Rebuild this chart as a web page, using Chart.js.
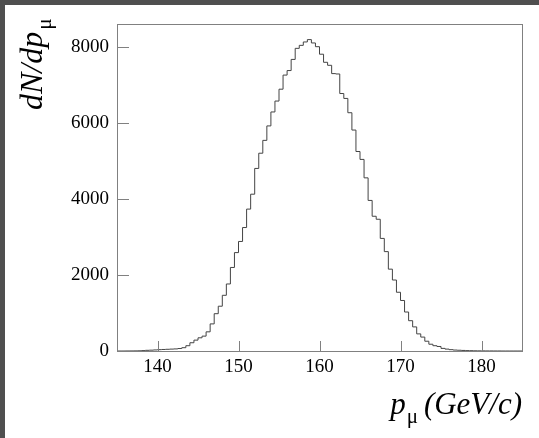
<!DOCTYPE html>
<html>
<head>
<meta charset="utf-8">
<script src="https://cdn.jsdelivr.net/npm/chart.js@4/dist/chart.umd.min.js"></script>
<style>
  html, body { margin: 0; padding: 0; background: #4f4f4f; width: 539px; height: 438px; overflow: hidden; }
  #wrap { position: absolute; left: 5px; top: 5px; width: 534px; height: 433px; background: #ffffff; }
  canvas { display: block; }
</style>
</head>
<body>
<div id="wrap"><canvas id="c" width="534" height="433"></canvas></div>
<script>
// Bin edges (GeV/c) of the histogram, 0.5 GeV/c wide
const binEdges = [
  135,135.5,136,136.5,137,137.5,138,138.5,139,139.5,
  140,140.5,141,141.5,142,142.5,143,143.5,144,144.5,
  145,145.5,146,146.5,147,147.5,148,148.5,149,149.5,
  150,150.5,151,151.5,152,152.5,153,153.5,154,154.5,
  155,155.5,156,156.5,157,157.5,158,158.5,159,159.5,
  160,160.5,161,161.5,162,162.5,163,163.5,164,164.5,
  165,165.5,166,166.5,167,167.5,168,168.5,169,169.5,
  170,170.5,171,171.5,172,172.5,173,173.5,174,174.5,
  175,175.5,176,176.5,177,177.5,178,178.5,179,179.5,
  180,180.5,181,181.5,182,182.5,183,183.5,184,184.5,
  185
];
// dN/dp per bin (100 bins)
const counts = [
  0,0,1,2,3,5,10,18,22,28,
  35,40,45,50,55,65,87,139,217,286,
  347,391,504,713,981,1178,1465,1763,2197,2588,
  2881,3247,3732,4124,4802,5202,5540,5920,6287,6574,
  6886,7257,7376,7669,7960,8039,8128,8190,8102,8004,
  7806,7593,7514,7296,7286,6772,6643,6267,5811,5247,
  5039,4554,3960,3544,3465,2961,2614,2153,1867,1545,
  1329,1025,797,634,450,366,257,178,139,119,
  69,50,35,25,20,15,10,8,5,4,
  3,2,2,1,1,0,0,0,0,0
];
const xTicks = [140, 150, 160, 170, 180];
const yTicks = [0, 2000, 4000, 6000, 8000];
const xRange = [135, 185];
const yRange = [0, 8590];

const points = binEdges.map((e, i) => ({ x: e, y: i < counts.length ? counts[i] : counts[counts.length - 1] }));
points.unshift({ x: binEdges[0], y: 0 });
points.push({ x: binEdges[binEdges.length - 1], y: 0 });

const serif = '"Liberation Serif", "DejaVu Serif", serif';

const rootFrame = {
  id: 'rootFrame',
  afterDraw(chart) {
    const ctx = chart.ctx;
    const a = chart.chartArea;
    const xs = chart.scales.x, ys = chart.scales.y;
    ctx.save();
    ctx.strokeStyle = '#808080';
    ctx.lineWidth = 1;
    ctx.strokeRect(Math.round(a.left) + 0.5, Math.round(a.top) + 0.5,
                   Math.round(a.right - a.left), Math.round(a.bottom - a.top));
    ctx.beginPath();
    yTicks.forEach(v => {
      const py = Math.round(ys.getPixelForValue(v)) + 0.5;
      ctx.moveTo(a.left, py); ctx.lineTo(a.left + 12, py);
    });
    xTicks.forEach(v => {
      const px = Math.round(xs.getPixelForValue(v)) + 0.5;
      ctx.moveTo(px, a.bottom); ctx.lineTo(px, a.bottom - 10);
    });
    ctx.stroke();

    // Y axis title: dN/dp_mu (rotated)
    ctx.fillStyle = '#000';
    ctx.save();
    ctx.translate(37, 105);
    ctx.rotate(-Math.PI / 2);
    ctx.font = 'italic 32px ' + serif;
    ctx.textAlign = 'left';
    ctx.textBaseline = 'alphabetic';
    ctx.fillText('dN/dp', 0, 0);
    const w = ctx.measureText('dN/dp').width;
    ctx.font = '21px ' + serif;
    ctx.fillText('\u03bc', w + 2, 9);
    ctx.restore();

    // X axis title: p_mu (GeV/c)
    ctx.textBaseline = 'alphabetic';
    ctx.textAlign = 'left';
    ctx.font = 'italic 31px ' + serif;
    const t2 = '(GeV/c)';
    const w2 = ctx.measureText(t2).width;
    const xEnd = a.right;
    const base = 409;
    ctx.fillText(t2, xEnd - w2, base);
    ctx.font = '21px ' + serif;
    const wm = ctx.measureText('\u03bc').width;
    const mx = xEnd - w2 - 6 - wm;
    ctx.fillText('\u03bc', mx, base + 9);
    ctx.font = 'italic 31px ' + serif;
    const wp = ctx.measureText('p').width;
    ctx.fillText('p', mx - wp - 1, base);
    ctx.restore();
  }
};

new Chart(document.getElementById('c'), {
  type: 'line',
  data: {
    datasets: [{
      data: points,
      stepped: 'before',
      borderColor: '#444444',
      borderWidth: 1,
      pointRadius: 0,
      fill: false,
      tension: 0
    }]
  },
  options: {
    responsive: false,
    animation: false,
    events: [],
    layout: { padding: { left: 0, top: 17, right: 17, bottom: 0 } },
    plugins: { legend: { display: false }, tooltip: { enabled: false }, title: { display: false } },
    scales: {
      x: {
        type: 'linear',
        min: xRange[0], max: xRange[1],
        afterFit(s) { s.height = 87; },
        afterBuildTicks(s) { s.ticks = xTicks.map(v => ({ value: v })); },
        grid: { display: false, drawTicks: false },
        border: { display: false },
        ticks: { color: '#000', padding: 5, maxRotation: 0, autoSkip: false,
                 callback: v => String(v),
                 font: { family: serif, size: 19 } }
      },
      y: {
        type: 'linear',
        min: yRange[0], max: yRange[1],
        afterFit(s) { s.width = 112; },
        afterBuildTicks(s) { s.ticks = yTicks.map(v => ({ value: v })); },
        grid: { display: false, drawTicks: false },
        border: { display: false },
        ticks: { color: '#000', padding: 8, callback: v => String(v),
                 font: { family: serif, size: 19 } }
      }
    }
  },
  plugins: [rootFrame]
});
</script>
</body>
</html>
